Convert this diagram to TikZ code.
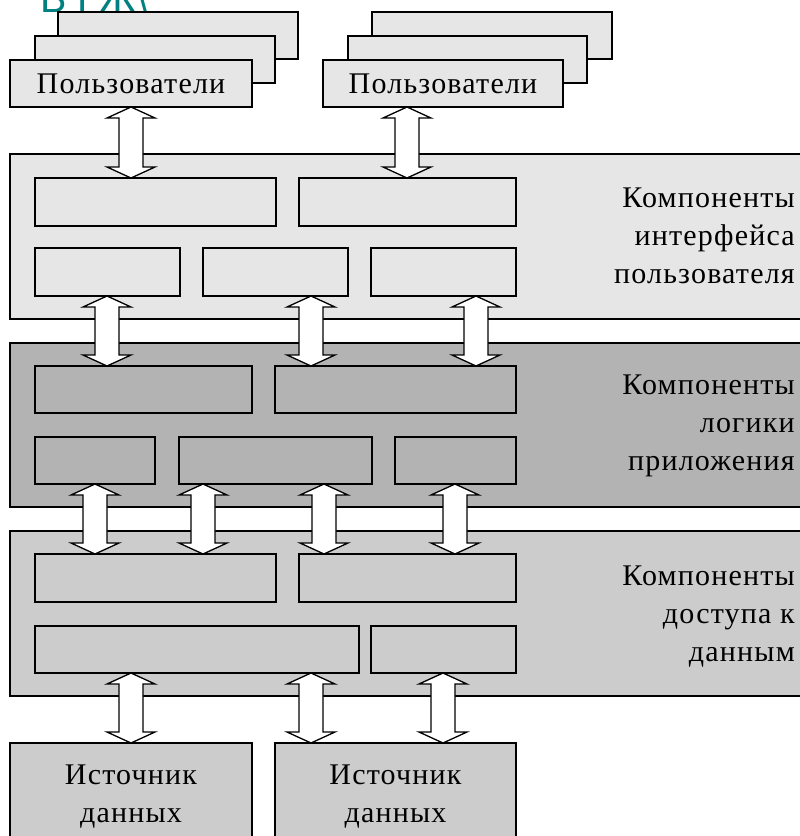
\documentclass[tikz,border=0pt]{standalone}
\usepackage{fontspec}
\setmainfont{Liberation Serif}
\newfontfamily\tealfont{Liberation Sans}
\usetikzlibrary{calc}
\definecolor{uigray}{RGB}{230,230,230}
\definecolor{lggray}{RGB}{179,179,179}
\definecolor{dagray}{RGB}{204,204,204}
\definecolor{tealtxt}{RGB}{0,128,128}
\tikzset{
  box/.style={draw=black, line width=1.3pt, inner sep=0pt, outer sep=0pt, anchor=north west},
  txtfont/.style={font=\fontsize{30}{38}\selectfont\addfontfeature{LetterSpace=4}},
  lbl/.style={txtfont, align=right, inner sep=0pt, anchor=base east},
  barrow/.style={draw=black, line width=1.3pt, fill=white, line join=miter},
}
\newcommand\rbox[6]{\node[box, fill=#6, minimum width=#4-#2, minimum height=#5-#3] (#1) at (#2,#3) {};}
% block double arrow at x=#1 between the bottom of node #2 and the top of node #3
\newcommand\dblarr[3]{%
  \draw[barrow] let \p1=(#2.south), \p2=(#3.north) in
    ({#1pt},\y1) -- ({#1pt+24pt},{\y1-11pt}) -- ({#1pt+12pt},{\y1-11pt})
    -- ({#1pt+12pt},{\y2+11pt}) -- ({#1pt+24pt},{\y2+11pt}) -- ({#1pt},\y2)
    -- ({#1pt-24pt},{\y2+11pt}) -- ({#1pt-12pt},{\y2+11pt})
    -- ({#1pt-12pt},{\y1-11pt}) -- ({#1pt-24pt},{\y1-11pt}) -- cycle;}
\begin{document}
\begin{tikzpicture}[x=1pt, y=-1pt]
\clip (0,0) rectangle (800,836);
\fill[white] (0,0) rectangle (800,836);
% partial title
\node[anchor=base west, inner sep=0pt, text=tealtxt, font=\tealfont\fontsize{40}{40}\selectfont] (title) at (40,12) {Б ГЖ\textbackslash};
% users stacks
\rbox{ulb}{58}{12}{298}{59}{uigray}
\rbox{ulm}{35}{36}{275}{83}{uigray}
\node[box, fill=uigray, minimum width=242, minimum height=47, txtfont] (ul) at (10,60) {Пользователи};
\rbox{urb}{372}{12}{612}{59}{uigray}
\rbox{urm}{348}{36}{587}{83}{uigray}
\node[box, fill=uigray, minimum width=240, minimum height=47, txtfont] (ur) at (323,60) {Пользователи};
% layer: user interface
\rbox{L1}{10}{154}{812}{319}{uigray}
\rbox{ui1}{35}{178}{276}{226}{uigray}
\rbox{ui2}{299}{178}{516}{226}{uigray}
\rbox{ui3}{35}{248}{180}{296}{uigray}
\rbox{ui4}{203}{248}{348}{296}{uigray}
\rbox{ui5}{371}{248}{516}{296}{uigray}
\node[lbl] (lab1) at (795,283) {Компоненты\\интерфейса\\пользователя};
% layer: application logic
\rbox{L2}{10}{343}{812}{507}{lggray}
\rbox{lg1}{35}{366}{252}{413}{lggray}
\rbox{lg2}{275}{366}{516}{413}{lggray}
\rbox{lg3}{35}{437}{155}{484}{lggray}
\rbox{lg4}{179}{437}{372}{484}{lggray}
\rbox{lg5}{395}{437}{516}{484}{lggray}
\node[lbl] (lab2) at (795,470) {Компоненты\\логики\\приложения};
% layer: data access
\rbox{L3}{10}{531}{812}{696}{dagray}
\rbox{da1}{35}{554}{276}{602}{dagray}
\rbox{da2}{299}{554}{516}{602}{dagray}
\rbox{da3}{35}{626}{359}{673}{dagray}
\rbox{da4}{371}{626}{516}{673}{dagray}
\node[lbl] (lab3) at (795,661) {Компоненты\\доступа к\\данным};
% data sources
\node[box, fill=dagray, minimum width=242, minimum height=107, txtfont, align=center] (src1) at (10,743) {Источник\\данных};
\node[box, fill=dagray, minimum width=241, minimum height=107, txtfont, align=center] (src2) at (275,743) {Источник\\данных};
% arrows
\dblarr{131}{ul}{ui1}
\dblarr{407}{ur}{ui2}
\dblarr{107}{ui3}{lg1}
\dblarr{311}{ui4}{lg2}
\dblarr{476}{ui5}{lg2}
\dblarr{95}{lg3}{da1}
\dblarr{203}{lg4}{da1}
\dblarr{324}{lg4}{da2}
\dblarr{455}{lg5}{da2}
\dblarr{131}{da3}{src1}
\dblarr{311}{da3}{src2}
\dblarr{443}{da4}{src2}
\end{tikzpicture}
\end{document}
